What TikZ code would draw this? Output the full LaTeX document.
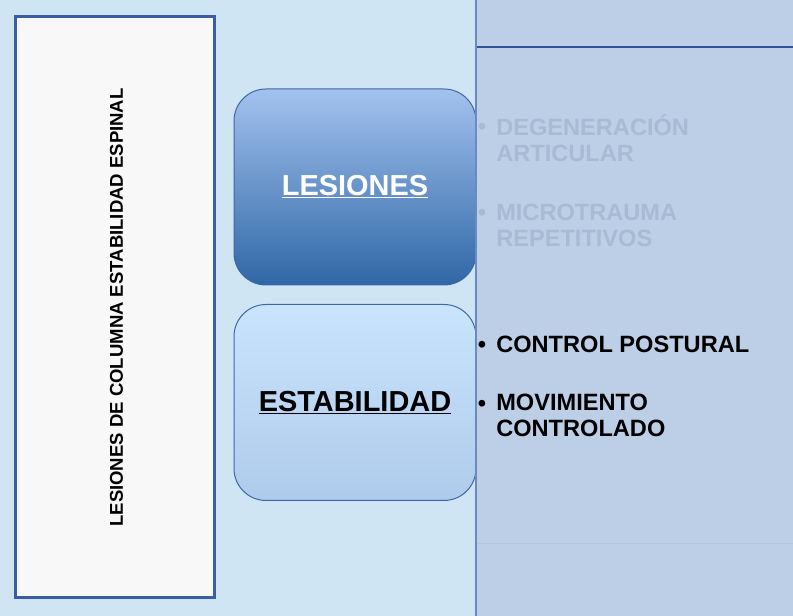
\documentclass[tikz,border=0pt]{standalone}
\usepackage{fontspec}
\setmainfont{Liberation Sans}
\usepackage{tikz}
\usetikzlibrary{positioning}
\definecolor{lsbg}{HTML}{D0E5F4}
\definecolor{lspanel}{HTML}{BCCFE7}
\definecolor{lsedge}{HTML}{6A8BC1}
\definecolor{lsrule}{HTML}{2F5597}
\definecolor{lsfade}{HTML}{B3C7E2}
\definecolor{lsfaint}{HTML}{A9BBD4}
\definecolor{lsframe}{HTML}{3A5EA3}
\definecolor{lspaper}{HTML}{F8F8F8}
\definecolor{lsdarktop}{HTML}{A3C2EE}
\definecolor{lsdarkbot}{HTML}{2F67A6}
\definecolor{lslighttop}{HTML}{C9E4FC}
\definecolor{lslightbot}{HTML}{AFCBEB}
\definecolor{lsboxline}{HTML}{3E66A9}
\tikzset{
  lsframebox/.style={
    draw=lsframe, fill=lspaper, line width=2.25pt,
    minimum width=149pt, minimum height=436pt, inner sep=0pt},
  lsblock/.style={
    draw=lsboxline, line width=0.75pt, rounded corners=24pt,
    minimum width=181.5pt, minimum height=147pt, inner sep=0pt},
  lstitle/.style={font=\bfseries\fontsize{21.7}{26}\selectfont},
  lsitem/.style={
    anchor=base west, inner sep=0pt, align=left,
    font=\bfseries\fontsize{17.7}{19.5}\selectfont},
  lsdot/.style={anchor=base, inner sep=0pt,
    font=\bfseries\fontsize{17.7}{19.5}\selectfont},
}

\begin{document}
\begin{tikzpicture}[x=0.75pt, y=0.75pt]

% Canvas and right-hand panel.
\useasboundingbox (0, 0) rectangle (793, 616);
\fill[lsbg] (0, 0) rectangle (793, 616);
\fill[lspanel] (476, 0) rectangle (793, 616);
\draw[lsfade, line width=0.75pt] (476, 72) -- (793, 72);
\draw[lsrule, line width=1.1pt] (476, 569) -- (793, 569);

% Left frame with the running title.
\node[lsframebox] (frame) at (115, 309) {};
\node[rotate=90, font=\bfseries\fontsize{13.9}{16}\selectfont]
  (title) at (116.5, 308.5) {LESIONES DE COLUMNA ESTABILIDAD ESPINAL};

% The two topic blocks.
\node[lsblock, top color=lsdarktop, bottom color=lsdarkbot]
  (lesiones) at (355, 429) {};
\node[lstitle, text=white] at (lesiones.center) {\underline{LESIONES}};
\node[lsblock, top color=lslighttop, bottom color=lslightbot]
  (estab) at (355, 213.5) {};
\node[lstitle, text=black] at (estab.center) {\underline{ESTABILIDAD}};
\draw[lsedge, line width=1.5pt] (476, 0) -- (476, 616);

% Bullet items of the panel (dot on the first line, node on the last).
\foreach \i/\y/\yl/\col/\lab in {
    0/481/454.3/lsfaint/{DEGENERACIÓN\\ARTICULAR},
    1/395.3/369.3/lsfaint/{MICROTRAUMA\\REPETITIVOS},
    2/263.7/263.7/black/{CONTROL POSTURAL},
    3/204.3/179.3/black/{MOVIMIENTO\\CONTROLADO}} {
  \node[lsdot, text=\col] (dot\i) at (482, \y) {•};
  \node[lsitem, text=\col] (item\i) at (496, \yl) {\lab};
}

\end{tikzpicture}
\end{document}
